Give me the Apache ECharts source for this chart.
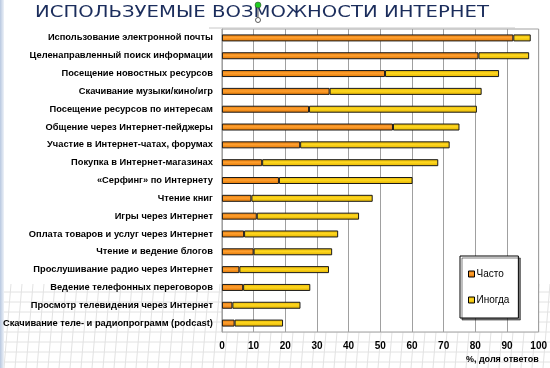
<!DOCTYPE html>
<html>
<head>
<meta charset="utf-8">
<script src="https://cdn.jsdelivr.net/npm/echarts@6/dist/echarts.min.js"></script>
<style>html,body{margin:0;padding:0;background:#fff;}#c{width:550px;height:368px;}</style>
</head>
<body>
<div id="c"></div>
<script>
var categories = [
  'Использование электронной почты',
  'Целенаправленный поиск информации',
  'Посещение новостных ресурсов',
  'Скачивание музыки/кино/игр',
  'Посещение ресурсов по интересам',
  'Общение через Интернет-пейджеры',
  'Участие в Интернет-чатах, форумах',
  'Покупка в Интернет-магазинах',
  '«Серфинг» по Интернету',
  'Чтение книг',
  'Игры через Интернет',
  'Оплата товаров и услуг через Интернет',
  'Чтение и ведение блогов',
  'Прослушивание радио через Интернет',
  'Ведение телефонных переговоров',
  'Просмотр телевидения через Интернет',
  'Скачивание теле- и радиопрограмм (podcast)'
];
var often = [92, 81, 51.5, 34, 27.5, 54, 24.7, 12.7, 18, 9.3, 11, 7, 10, 5.5, 6.7, 3.3, 4];
var sometimes = [5.5, 16, 36, 48, 53, 21, 47.2, 55.6, 42.2, 38.3, 32.3, 29.7, 24.8, 28.3, 21.2, 21.5, 15.3];
var xTicks = [0, 10, 20, 30, 40, 50, 60, 70, 80, 90, 100];
var seriesNames = ['Часто', 'Иногда'];
var titleText = 'ИСПОЛЬЗУЕМЫЕ ВОЗМОЖНОСТИ ИНТЕРНЕТ';
var axisName = '%, доля ответов';

var chart = echarts.init(document.getElementById('c'), null, {renderer: 'canvas'});
function grad(dark, light) {
  return new echarts.graphic.LinearGradient(0, 0, 0, 1, [
    {offset: 0, color: dark}, {offset: 0.45, color: light}, {offset: 1, color: dark}
  ]);
}
// decorative background grid (perspective paper pattern)
var deco = [];
for (var gy = 292; gy <= 368; gy += 10) {
  deco.push({type: 'line', silent: true, z: -5, shape: {x1: 0, y1: gy, x2: 550, y2: gy}, style: {stroke: '#e2e2e2', lineWidth: 1}});
}
for (var gx = 0; gx <= 560; gx += 11) {
  deco.push({type: 'line', silent: true, z: -5, shape: {x1: gx, y1: 284, x2: gx - 7, y2: 368}, style: {stroke: '#e2e2e2', lineWidth: 1}});
}
var option = {
  backgroundColor: '#ffffff',
  animation: false,
  textStyle: {fontFamily: 'Liberation Sans, Arial, sans-serif'},
  graphic: deco.concat([
    {type: 'rect', left: 0, top: 0, z: -4, shape: {width: 4, height: 368},
     style: {fill: new echarts.graphic.LinearGradient(0, 0, 1, 0, [{offset: 0, color: '#b8c8e0'}, {offset: 1, color: '#eef2f8'}])}},
    {type: 'line', shape: {x1: 209, y1: 28, x2: 515, y2: 28}, style: {stroke: '#c8c8c8', lineWidth: 1}},
    {type: 'text', x: 262, y: 13, scaleX: 1.31,
     style: {text: titleText, fill: '#1b2d5c', font: '15px "DejaVu Sans"', textAlign: 'center', textVerticalAlign: 'middle', stroke: '#ffffff', lineWidth: 0.4}},
    {type: 'line', shape: {x1: 258, y1: 5, x2: 258, y2: 18}, style: {stroke: '#555', lineWidth: 1}, z: 10},
    {type: 'circle', shape: {cx: 258, cy: 5, r: 3}, style: {fill: '#22cc22', stroke: '#333', lineWidth: 0.5}, z: 10},
    {type: 'circle', shape: {cx: 258, cy: 20, r: 2.5}, style: {fill: '#ffffff', stroke: '#333', lineWidth: 0.8}, z: 10}
  ]),
  grid: {left: 221, right: 8, top: 29, bottom: 36, show: true, borderColor: '#a0a0a0', borderWidth: 1, backgroundColor: '#ffffff'},
  legend: {
    orient: 'vertical', left: 460, top: 256, width: 42, height: 48,
    padding: [13, 9, 13, 8], itemGap: 16, itemWidth: 6, itemHeight: 6,
    backgroundColor: '#ffffff', borderColor: '#000000', borderWidth: 1,
    shadowColor: 'rgba(0,0,0,0.5)', shadowOffsetX: 2, shadowOffsetY: 2, shadowBlur: 0,
    icon: 'rect',
    itemStyle: {borderColor: '#000', borderWidth: 1},
    textStyle: {fontSize: 10, color: '#000', padding: [0, 0, 0, -3], fontFamily: 'Liberation Sans'},
    data: seriesNames
  },
  xAxis: {
    type: 'value', min: 0, max: 100, interval: 10,
    axisLine: {show: false}, axisTick: {show: false},
    splitLine: {show: true, lineStyle: {color: '#a0a0a0', width: 1}},
    axisLabel: {fontSize: 10, fontWeight: 'bold', color: '#000', margin: 9,
      formatter: function (v) { return xTicks.indexOf(v) >= 0 ? String(v) : ''; }},
    name: axisName, nameLocation: 'end', nameGap: 0,
    nameTextStyle: {fontSize: 9, fontWeight: 'bold', color: '#000', align: 'right', verticalAlign: 'top', padding: [23, 0, 0, 0]}
  },
  yAxis: {
    type: 'category', inverse: true, data: categories,
    axisLine: {show: true, lineStyle: {color: '#a0a0a0'}}, axisTick: {show: false},
    axisLabel: {fontSize: 9.3, fontWeight: 'bold', color: '#000', margin: 9}
  },
  series: [
    {name: seriesNames[0], type: 'bar', stack: 's', data: often, barWidth: 7,
     itemStyle: {color: grad('#e07400', '#ffa030'), borderColor: '#1a1a1a', borderWidth: 1}},
    {name: seriesNames[1], type: 'bar', stack: 's', data: sometimes, barWidth: 7,
     itemStyle: {color: grad('#e0b000', '#ffd820'), borderColor: '#1a1a1a', borderWidth: 1}}
  ]
};
chart.setOption(option);
</script>
</body>
</html>
